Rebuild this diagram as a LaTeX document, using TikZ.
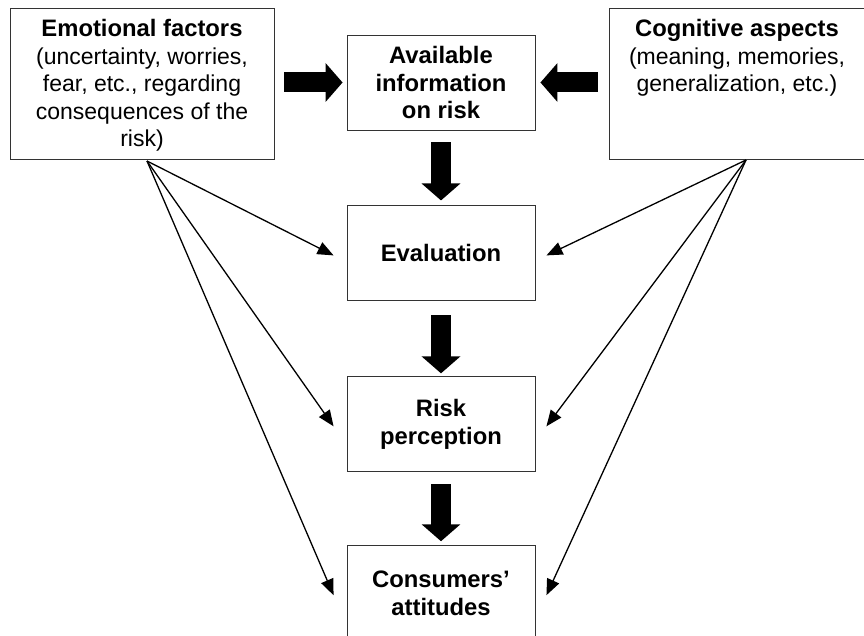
\documentclass[tikz,border=0pt]{standalone}
\usepackage{fontspec}
\setmainfont{Liberation Sans}
\usetikzlibrary{arrows.meta,positioning}
\newcommand\mainsize{\fontsize{23}{27.5}\selectfont}
\newcommand\headsize{\fontsize{23.8}{27.5}\selectfont\bfseries}

\begin{document}
\begin{tikzpicture}[x=1pt, y=-1pt,
    box/.style={draw=black!80, line width=0.9pt, inner sep=0pt, minimum width=188pt, minimum height=95pt, align=center, font=\headsize},
    sidebox/.style={draw=black!80, line width=0.9pt, inner sep=0pt, font=\mainsize},
    fat/.style={line width=20pt, -{Triangle[width=38pt,length=17pt]}, shorten <=12pt, shorten >=4pt},
    link/.style={line width=1.3pt, -{Triangle[width=13pt,length=16pt]}},
    node distance=75pt]
  \clip (0,0) rectangle (864,636);

  % middle column
  \node [box] (info) at (441,82.5) {Available\\information\\on risk};
  \node [box, below=of info] (eval) {Evaluation};
  \node [box, below=of eval] (perc) {Risk\\perception};
  \node [box, below=73pt of perc] (att) {Consumers'\\attitudes};

  % side boxes
  \node [sidebox] (emo) at (142,83.5) {\begin{minipage}[c][151pt][t]{264pt}\centering
      {\headsize Emotional factors}\rule{0pt}{29pt}\\
      (uncertainty, worries,\\
      fear, etc., regarding\\
      consequences of the\\
      risk)
    \end{minipage}};
  \node [sidebox] (cog) at (737,83.5) {\begin{minipage}[c][151pt][t]{256pt}\centering
      {\headsize Cognitive aspects}\rule{0pt}{29pt}\\
      (meaning, memories,\\
      generalization, etc.)
    \end{minipage}};

  % fat arrows
  \draw [fat, shorten <=10pt] (emo.east |- info.west) -- (info.west);
  \draw [fat, shorten <=11pt, shorten >=5pt] (cog.west |- info.east) -- (info.east);
  \draw [fat, shorten >=5pt] (info) -- (eval);
  \draw [fat, shorten <=14pt, shorten >=3pt] (eval) -- (perc);
  \draw [fat] (perc) -- (att);

  % influence lines
  \coordinate (emoroot) at (147,161);
  \coordinate (cogroot) at (746,160);
  \foreach \n in {eval,perc,att} {
    \draw [link] (emoroot) -- ([xshift=-13pt,yshift=-2pt]\n.west);
    \draw [link] (cogroot) -- ([xshift=11pt,yshift=-2pt]\n.east);
  }
\end{tikzpicture}
\end{document}
